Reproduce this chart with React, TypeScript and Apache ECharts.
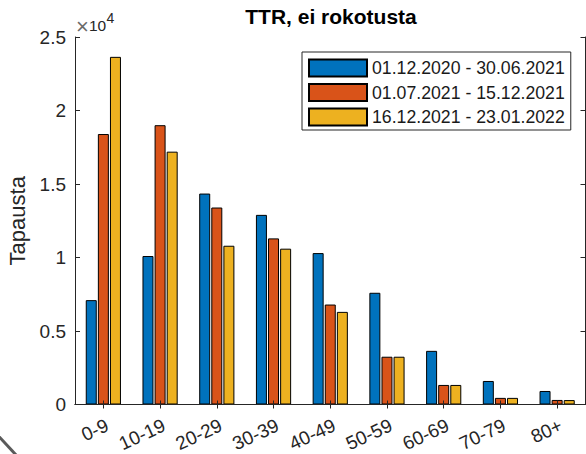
import React, { useEffect, useRef } from "react";
import * as echarts from "echarts";

// Age groups on the x axis
const categories = ["0-9", "10-19", "20-29", "30-39", "40-49", "50-59", "60-69", "70-79", "80+"];

// Case counts per period
const seriesNames = ["01.12.2020 - 30.06.2021", "01.07.2021 - 15.12.2021", "16.12.2021 - 23.01.2022"];
const period1 = [7100, 10100, 14350, 12900, 10300, 7600, 3650, 1600, 920];
const period2 = [18400, 19000, 13400, 11300, 6800, 3250, 1330, 450, 310];
const period3 = [23650, 17200, 10800, 10600, 6300, 3250, 1330, 450, 300];

// Y tick values (cases) and the axis scale factor shown above the axis
const yTicks = [0, 5000, 10000, 15000, 20000, 25000];
const yScale = 10000;

const FONT = '"Liberation Sans", Arial, Helvetica, sans-serif';
const AXIS = "#262626";
const COLORS = ["#0072BD", "#D95319", "#EDB120"];

export default function App() {
  const ref = useRef<HTMLDivElement>(null);

  useEffect(() => {
    document.body.style.margin = "0";
    const chart = echarts.init(ref.current!, null, { renderer: "svg" });
    const lineStyle = { color: AXIS, width: 1 };
    const seriesData = [period1, period2, period3];

    chart.setOption({
      animation: false,
      backgroundColor: "#fff",
      color: COLORS,
      grid: {
        left: 75,
        right: 0.5,
        top: 37,
        bottom: 49.5,
        containLabel: false,
        outerBoundsMode: "none",
      },
      legend: {
        orient: "vertical",
        left: 302,
        top: 52,
        icon: "rect",
        itemWidth: 58,
        itemHeight: 17,
        itemGap: 4.5,
        padding: [6, 6, 3, 6],
        borderColor: AXIS,
        borderWidth: 1,
        backgroundColor: "#fff",
        textStyle: { fontSize: 17.7, color: "#1a1a1a", fontFamily: FONT, lineHeight: 20 },
        data: seriesNames,
      },
      xAxis: [
        {
          type: "category",
          data: categories,
          position: "bottom",
          z: 5,
          axisLine: { show: true, lineStyle },
          axisTick: { show: true, inside: true, length: 4, alignWithLabel: true, lineStyle },
          axisLabel: {
            interval: 0,
            hideOverlap: false,
            rotate: 25,
            align: "right",
            verticalAlign: "top",
            margin: 11,
            fontSize: 19,
            lineHeight: 19,
            color: AXIS,
            fontFamily: FONT,
          },
          splitLine: { show: false },
        },
        {
          type: "category",
          data: categories,
          position: "top",
          z: 5,
          axisLine: { show: true, lineStyle },
          axisTick: { show: true, inside: true, length: 4, alignWithLabel: true, lineStyle },
          axisLabel: { show: false },
          splitLine: { show: false },
        },
      ],
      yAxis: [
        {
          type: "value",
          position: "left",
          min: yTicks[0],
          max: yTicks[yTicks.length - 1],
          interval: yTicks[1] - yTicks[0],
          z: 5,
          name: "Tapausta",
          nameLocation: "middle",
          nameGap: 45,
          nameTextStyle: { fontSize: 22, color: AXIS, fontFamily: FONT },
          axisLine: { show: true, lineStyle },
          axisTick: { show: true, inside: true, length: 5, lineStyle },
          axisLabel: {
            formatter: (v: number) => String(v / yScale),
            fontSize: 19,
            color: AXIS,
            fontFamily: FONT,
            margin: 9,
            padding: [6, 0, 0, 0],
          },
          splitLine: { show: false },
        },
        {
          type: "value",
          position: "right",
          min: yTicks[0],
          max: yTicks[yTicks.length - 1],
          interval: yTicks[1] - yTicks[0],
          z: 5,
          axisLine: { show: true, lineStyle },
          axisTick: { show: true, inside: true, length: 5, lineStyle },
          axisLabel: { show: false },
          splitLine: { show: false },
        },
      ],
      series: seriesNames.map((name, i) => ({
        name,
        type: "bar",
        xAxisIndex: 0,
        yAxisIndex: 0,
        barWidth: 11,
        barGap: "10%",
        data: seriesData[i],
        itemStyle: { color: COLORS[i], borderColor: "#000", borderWidth: 1 },
      })),
      graphic: [
        {
          type: "text",
          x: 331,
          y: 16.5,
          style: {
            text: "TTR, ei rokotusta",
            font: `bold 21px ${FONT}`,
            fill: "#000",
            align: "center",
            verticalAlign: "middle",
          },
        },
        {
          type: "text",
          x: 76,
          y: 26,
          style: {
            text: "\u00d7",
            font: `22px ${FONT}`,
            fill: "#6a6a6a",
            align: "left",
            verticalAlign: "middle",
          },
        },
        {
          type: "text",
          x: 89,
          y: 25.7,
          style: {
            text: "10",
            font: `15.5px ${FONT}`,
            fill: AXIS,
            align: "left",
            verticalAlign: "middle",
          },
        },
        {
          type: "text",
          x: 106.5,
          y: 17.5,
          style: {
            text: "4",
            font: `14px ${FONT}`,
            fill: AXIS,
            align: "left",
            verticalAlign: "middle",
          },
        },
        {
          type: "line",
          shape: { x1: -2, y1: 435.5, x2: 17, y2: 456 },
          style: { stroke: "#5a5a5a", lineWidth: 3 },
        },
      ],
    });

    return () => chart.dispose();
  }, []);

  return <div ref={ref} style={{ width: 586, height: 454 }} />;
}
